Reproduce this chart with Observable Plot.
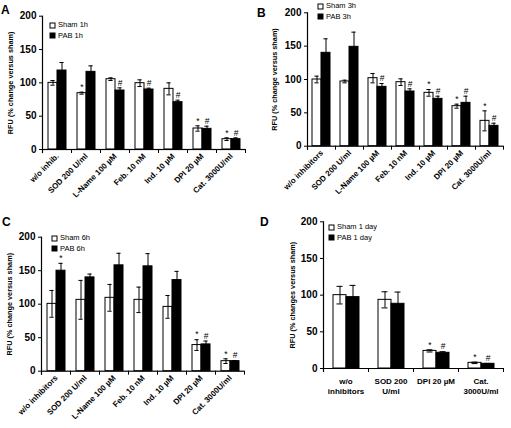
<!DOCTYPE html>
<html><head><meta charset="utf-8">
<script src="https://cdn.jsdelivr.net/npm/d3@7"></script>
<script src="https://cdn.jsdelivr.net/npm/@observablehq/plot@0.6"></script>
<style>
body{margin:0;background:#fff;}
#fig{position:relative;width:511px;height:428px;font-family:"Liberation Sans",Arial,sans-serif;overflow:hidden;background:#fff;}
.panel{position:absolute;}
.letter{position:absolute;font-weight:bold;font-size:12px;line-height:12px;}
.lgbox{position:absolute;}
.lg-swatch > svg{margin-right:3px !important;overflow:visible;}
.lg-swatch > svg rect{stroke:#000;stroke-width:1px;}
.lg-swatch{padding-bottom:0 !important;height:10.6px;line-height:10.6px;}
.lg-swatches{margin:0 !important;}
</style></head><body><div id="fig"></div>
<script>
// ---------- DATA ----------
const catsA = ["w/o inhib.", "SOD 200 U/ml", "L-Name 100 µM", "Feb. 10 nM", "Ind. 10 µM", "DPI 20 µM", "Cat. 3000U/ml"];
const seriesA = ["Sham 1h", "PAB  1h"];
const shamA = [100, 84.5, 105.5, 99.5, 91, 31.5, 15.5];
const shamErrA = [3.5, 1.5, 2, 5, 9, 4, 2];
const pabA = [118.5, 116.5, 88.5, 90, 71, 31, 15.5];
const pabErrA = [12, 9, 4, 2, 3, 4, 2];
const shamSigA = ["", "*", "", "", "", "*", "*"];
const pabSigA = ["", "", "#", "#", "#", "#", "#"];

const catsB = ["w/o inhibitors", "SOD 200 U/ml", "L-Name 100 µM", "Feb. 10 nM", "Ind. 10 µM", "DPI 20 µM", "Cat. 3000U/ml"];
const seriesB = ["Sham 3h", "PAB 3h"];
const shamB = [100, 97, 102, 96, 80, 60, 38];
const shamErrB = [5, 2, 7, 5, 5, 3, 15];
const pabB = [140, 149, 89, 82, 71, 65, 30.5];
const pabErrB = [21, 22, 5, 4, 4, 10, 4];
const shamSigB = ["", "", "", "", "*", "*", "*"];
const pabSigB = ["", "", "#", "#", "#", "#", "#"];

const catsC = ["w/o inhibitors", "SOD 200 U/ml", "L-Name 100 µM", "Feb. 10 nM", "Ind. 10 µM", "DPI 20 µM", "Cat. 3000U/ml"];
const seriesC = ["Sham 6h", "PAB 6h"];
const shamC = [100.5, 106.5, 109.5, 106.5, 96, 39, 15];
const shamErrC = [20, 29, 20, 19, 17, 8, 3.5];
const pabC = [150, 140, 158, 156.5, 136, 40, 15];
const pabErrC = [11, 5, 18, 19, 13, 5, 1];
const shamSigC = ["", "", "", "", "", "*", "*"];
const pabSigC = ["*", "", "", "", "", "#", "#"];

const catsD = ["w/o\ninhibitors", "SOD 200\nU/ml", "DPI 20 µM", "Cat.\n3000U/ml"];
const seriesD = ["Sham 1 day", "PAB 1 day"];
const shamD = [100, 93.6, 24, 7.7];
const shamErrD = [12, 11, 1.5, 1];
const pabD = [97.3, 88.2, 21.4, 6.4];
const pabErrD = [16, 16, 1.5, 0.5];
const shamSigD = ["", "", "*", "*"];
const pabSigD = ["", "", "#", "#"];

const yTicks = [0, 50, 100, 150, 200];
const titleABC = "RFU (% change versus sham)";
const titleD = "RFU (% changes versus sham)";

// ---------- DRAW ----------
const fig = document.getElementById("fig");
const FONT = "Liberation Sans, Arial, sans-serif";

function panel(cfg) {
  const {cats, series, sham, shamErr, pab, pabErr, shamSig, pabSig, title} = cfg;
  const rows = cats.flatMap((c, i) => [
    {cat: c, s: series[0], v: sham[i], e: shamErr[i], sig: shamSig[i]},
    {cat: c, s: series[1], v: pab[i], e: pabErr[i], sig: pabSig[i]}
  ]);
  const fh = cfg.height - cfg.mt - cfg.mb;
  const p = Plot.plot({
    width: cfg.width, height: cfg.height,
    marginLeft: cfg.ml, marginRight: cfg.mr, marginTop: cfg.mt, marginBottom: cfg.mb,
    style: {fontFamily: FONT, background: "transparent", overflow: "visible"},
    fx: {domain: cats, padding: 0, label: null, axis: null},
    x: {domain: series, paddingInner: 0, paddingOuter: cfg.padOuter, axis: null},
    y: {domain: [0, 200], axis: null},
    color: {domain: series, range: ["white", "black"]},
    marks: [
      Plot.barY(rows, {fx: "cat", x: "s", y: "v", fill: "s", stroke: "black", strokeWidth: 1}),
      Plot.ruleX(rows, {fx: "cat", x: "s", y1: d => d.v - d.e, y2: d => d.v + d.e, stroke: "black", strokeWidth: 1}),
      Plot.tickY(rows, {fx: "cat", x: "s", y: d => d.v + d.e, insetLeft: cfg.cap, insetRight: cfg.cap, stroke: "black", strokeWidth: 1}),
      Plot.tickY(rows, {fx: "cat", x: "s", y: d => d.v - d.e, insetLeft: cfg.cap, insetRight: cfg.cap, stroke: "black", strokeWidth: 1}),
      Plot.text(rows, {fx: "cat", x: "s", y: d => d.v + d.e, text: "sig", dy: -5, fontSize: 8.5, fill: "black"}),
      Plot.ruleY([0], {stroke: "black", strokeWidth: 1.2}),
      Plot.frame({anchor: "left", facetAnchor: "left", stroke: "black", strokeWidth: 1.2, insetBottom: -3}),
      Plot.frame({anchor: "left", stroke: "black", strokeWidth: 1, insetTop: fh, insetBottom: -3}),
      Plot.frame({anchor: "right", facetAnchor: "right", stroke: "black", strokeWidth: 1, insetTop: fh, insetBottom: -3}),
      Plot.axisY({ticks: yTicks, tickSize: 3, tickPadding: 3, fontSize: 10, fontWeight: "bold", label: null, tickFormat: d => String(d)}),
      Plot.axisY({ticks: [], tickSize: 0, label: title, labelAnchor: "center", labelArrow: "none", labelOffset: cfg.labelOffset, fontSize: 7.3, fontWeight: "bold"}),
      Plot.axisFx({anchor: "bottom", tickSize: 0, tickPadding: cfg.tickPad, tickRotate: cfg.rotate, fontSize: 8, fontWeight: "bold", label: null, lineHeight: 1.25, dx: cfg.fxDx || 0})
    ]
  });
  p.classList.add("panel");
  p.style.left = cfg.left + "px";
  p.style.top = cfg.top + "px";
  fig.appendChild(p);

  const lg = Plot.legend({
    color: {domain: series, range: ["white", "black"]},
    legend: "swatches", columns: 1, swatchSize: 5, className: "lg",
    style: {fontFamily: FONT, fontSize: "7.5px", color: "#000"}
  });
  const box = document.createElement("div");
  box.className = "lgbox";
  box.style.left = cfg.lgLeft + "px";
  box.style.top = cfg.lgTop + "px";
  box.appendChild(lg);
  fig.appendChild(box);

  const L = document.createElement("div");
  L.className = "letter";
  L.textContent = cfg.letter;
  L.style.left = cfg.letterX + "px";
  L.style.top = cfg.letterY + "px";
  fig.appendChild(L);
}

panel({cats: catsA, series: seriesA, sham: shamA, shamErr: shamErrA, pab: pabA, pabErr: pabErrA,
  shamSig: shamSigA, pabSig: pabSigA, title: titleABC,
  left: 0, top: 0, width: 255, height: 214, ml: 39, mr: 7, mt: 15.7, mb: 65,
  padOuter: 0.52, cap: 2.4, rotate: -45, tickPad: 5, labelOffset: 35,
  lgLeft: 50, lgTop: 20, letter: "A", letterX: 1, letterY: 4});

panel({cats: catsB, series: seriesB, sham: shamB, shamErr: shamErrB, pab: pabB, pabErr: pabErrB,
  shamSig: shamSigB, pabSig: pabSigB, title: titleABC,
  left: 255, top: 0, width: 256, height: 214, ml: 49, mr: 6, mt: 12.3, mb: 68.3,
  padOuter: 0.52, cap: 2.4, rotate: -45, tickPad: 5, labelOffset: 36,
  lgLeft: 318, lgTop: 1, letter: "B", letterX: 257, letterY: 7});

panel({cats: catsC, series: seriesC, sham: shamC, shamErr: shamErrC, pab: pabC, pabErr: pabErrC,
  shamSig: shamSigC, pabSig: pabSigC, title: titleABC,
  left: 0, top: 214, width: 255, height: 214, ml: 40, mr: 11, mt: 22.7, mb: 57.3,
  padOuter: 0.52, cap: 2.4, rotate: -45, tickPad: 5, labelOffset: 35,
  lgLeft: 52, lgTop: 233, letter: "C", letterX: 2, letterY: 216});

panel({cats: catsD, series: seriesD, sham: shamD, shamErr: shamErrD, pab: pabD, pabErr: pabErrD,
  shamSig: shamSigD, pabSig: pabSigD, title: titleD,
  left: 255, top: 214, width: 256, height: 214, ml: 66, mr: 7, mt: 7.3, mb: 60,
  padOuter: 0.63, cap: 3.5, rotate: 0, tickPad: 8, labelOffset: 34,
  lgLeft: 329, lgTop: 222, letter: "D", letterX: 260, letterY: 216});
</script></body></html>
